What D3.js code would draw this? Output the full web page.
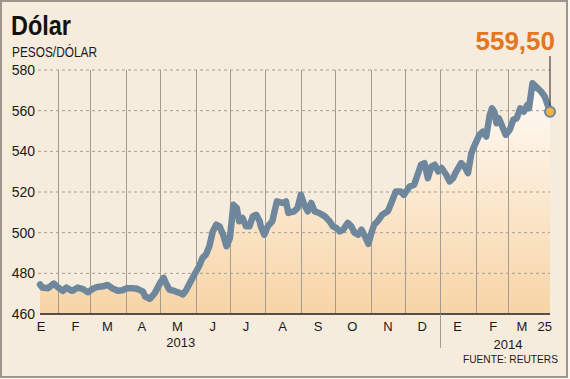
<!DOCTYPE html>
<html>
<head>
<meta charset="utf-8">
<script src="https://cdn.jsdelivr.net/npm/d3@7"></script>
<style>
  html, body { margin: 0; padding: 0; background: #fbf7f1; }
  svg { display: block; font-family: "Liberation Sans", Arial, sans-serif; }
</style>
</head>
<body>
<div id="chart"></div>
<script>
// serie diaria del dólar (pesos por dólar)
const series = [
  ["2013-01-16", 474.5], ["2013-01-18", 473], ["2013-01-23", 472.7], ["2013-01-28", 475],
  ["2013-02-01", 473], ["2013-02-05", 471.4], ["2013-02-08", 473], ["2013-02-13", 471.4],
  ["2013-02-18", 473], ["2013-02-22", 472.4], ["2013-02-27", 470.7], ["2013-03-03", 472.4],
  ["2013-03-07", 473.3], ["2013-03-12", 473.6], ["2013-03-16", 474.3], ["2013-03-20", 472.7],
  ["2013-03-25", 471.4], ["2013-03-29", 471.7], ["2013-04-02", 472.7], ["2013-04-07", 472.7],
  ["2013-04-11", 472.4], ["2013-04-16", 471], ["2013-04-18", 468.6], ["2013-04-22", 467.5],
  ["2013-04-26", 470], ["2013-05-01", 475.3], ["2013-05-04", 477.8], ["2013-05-06", 475.3],
  ["2013-05-09", 472], ["2013-05-14", 471.2], ["2013-05-18", 470.4], ["2013-05-21", 469.6],
  ["2013-05-24", 472], ["2013-05-27", 475.3], ["2013-05-31", 479.4], ["2013-06-04", 483.5],
  ["2013-06-07", 487.6], ["2013-06-10", 489.2], ["2013-06-13", 493.3], ["2013-06-16", 500.6],
  ["2013-06-19", 503.9], ["2013-06-22", 503.1], ["2013-06-25", 499], ["2013-06-28", 493.3],
  ["2013-07-01", 497.4], ["2013-07-04", 513.7], ["2013-07-07", 512.1], ["2013-07-09", 505.6],
  ["2013-07-12", 507.2], ["2013-07-15", 503.1], ["2013-07-18", 503.1], ["2013-07-21", 508],
  ["2013-07-24", 508.8], ["2013-07-27", 505.6], ["2013-07-28", 503.1], ["2013-07-31", 499],
  ["2013-08-03", 503.1], ["2013-08-07", 505.6], ["2013-08-11", 515.4], ["2013-08-16", 514.6],
  ["2013-08-19", 515.4], ["2013-08-21", 509.7], ["2013-08-26", 510.5], ["2013-08-29", 512.1],
  ["2013-09-01", 518.6], ["2013-09-04", 513.7], ["2013-09-07", 510.5], ["2013-09-10", 514.6],
  ["2013-09-13", 510.5], ["2013-09-17", 509.7], ["2013-09-22", 508], ["2013-09-26", 505.6],
  ["2013-09-29", 503.1], ["2013-10-02", 502.3], ["2013-10-05", 500.6], ["2013-10-08", 501.5],
  ["2013-10-12", 504.8], ["2013-10-15", 503.1], ["2013-10-18", 499.9], ["2013-10-21", 499],
  ["2013-10-24", 501.5], ["2013-10-27", 498.2], ["2013-10-30", 494.5], ["2013-11-02", 500.6],
  ["2013-11-04", 503.9], ["2013-11-07", 505.6], ["2013-11-11", 508.8], ["2013-11-16", 510.5],
  ["2013-11-19", 514.6], ["2013-11-23", 520.3], ["2013-11-27", 520.3], ["2013-11-30", 518.6],
  ["2013-12-05", 522.7], ["2013-12-09", 523.6], ["2013-12-12", 528.5], ["2013-12-15", 533.4],
  ["2013-12-18", 534.2], ["2013-12-21", 526.8], ["2013-12-24", 532.5], ["2013-12-27", 533.4],
  ["2013-12-30", 530.1], ["2014-01-02", 531.8], ["2014-01-06", 528.5], ["2014-01-09", 525.2],
  ["2014-01-12", 526.8], ["2014-01-14", 529.3], ["2014-01-19", 534.2], ["2014-01-22", 532.5],
  ["2014-01-25", 529.3], ["2014-01-28", 539.1], ["2014-01-31", 543.2], ["2014-02-04", 548.1],
  ["2014-02-07", 549.7], ["2014-02-10", 547.3], ["2014-02-13", 557.9], ["2014-02-15", 561.2],
  ["2014-02-17", 559.5], ["2014-02-19", 553.8], ["2014-02-21", 556.3], ["2014-02-24", 552.2],
  ["2014-02-27", 548.1], ["2014-03-02", 550.6], ["2014-03-04", 555.5], ["2014-03-06", 556.3],
  ["2014-03-08", 561.2], ["2014-03-10", 559.5], ["2014-03-12", 562.8], ["2014-03-13", 561.2],
  ["2014-03-15", 573.5], ["2014-03-17", 571.8], ["2014-03-20", 569.3], ["2014-03-22", 566.9],
  ["2014-03-25", 559.5]
];

// eje y
const yTicks = [460, 480, 500, 520, 540, 560, 580];

// etiquetas de meses (fecha donde va la letra)
const monthLabels = [
  ["2013-01-17", "E"], ["2013-02-16", "F"], ["2013-03-16", "M"], ["2013-04-15", "A"],
  ["2013-05-16", "M"], ["2013-06-16", "J"], ["2013-07-15", "J"], ["2013-08-16", "A"],
  ["2013-09-16", "S"], ["2013-10-16", "O"], ["2013-11-16", "N"], ["2013-12-16", "D"],
  ["2014-01-16", "E"], ["2014-02-16", "F"], ["2014-03-09", "M"], ["2014-03-22", "25"]
];
const yearLabels = [["2013-05-19", "2013"], ["2014-03-01", "2014"]];

const parse = d3.timeParse("%Y-%m-%d");
const data = series.map(([d, v]) => ({ date: parse(d), value: v }));
const last = data[data.length - 1];

const width = 570;
const height = 379;
const plot = { left: 40, right: 550, top: 70, bottom: 314 };

const svg = d3.select("#chart")
  .append("svg")
  .attr("width", width)
  .attr("height", height);

// marco
svg.append("rect")
  .attr("x", 1).attr("y", 1)
  .attr("width", 566).attr("height", 376)
  .attr("fill", "#f6ecde")
  .attr("stroke", "#9d968d")
  .attr("stroke-width", 2);

// escala x: marzo 2014 va estirado hasta el 25
const xScale = d3.scaleTime()
  .domain([parse("2013-01-16"), parse("2014-03-01"), parse("2014-03-25")])
  .range([plot.left, 508, plot.right]);

const yScale = d3.scaleLinear()
  .domain([460, 580])
  .range([plot.bottom, plot.top]);

// degradado del área
const grad = svg.append("defs")
  .append("linearGradient")
  .attr("id", "areaGrad")
  .attr("gradientUnits", "userSpaceOnUse")
  .attr("x1", 0).attr("x2", 0)
  .attr("y1", plot.bottom).attr("y2", plot.top + 10);
grad.append("stop").attr("offset", "0%").attr("stop-color", "#f7d4a6");
grad.append("stop").attr("offset", "100%").attr("stop-color", "#fffcf8");

const area = d3.area()
  .x((d) => xScale(d.date))
  .y0(yScale(460))
  .y1((d) => yScale(d.value));

svg.append("path")
  .datum(data)
  .attr("d", area)
  .attr("fill", "url(#areaGrad)");

// líneas horizontales punteadas
svg.append("g")
  .selectAll("line")
  .data(yTicks.filter((t) => t > 460))
  .join("line")
  .attr("x1", plot.left - 2)
  .attr("x2", plot.right)
  .attr("y1", (d) => yScale(d))
  .attr("y2", (d) => yScale(d))
  .attr("stroke", "#a59e95")
  .attr("stroke-width", 1)
  .attr("stroke-dasharray", "3,3");

// líneas verticales por mes
const monthStarts = d3.timeMonth.range(parse("2013-02-01"), parse("2014-03-02"));
svg.append("g")
  .selectAll("line")
  .data(monthStarts)
  .join("line")
  .attr("x1", (d) => Math.round(xScale(d)) + 0.5)
  .attr("x2", (d) => Math.round(xScale(d)) + 0.5)
  .attr("y1", plot.top)
  .attr("y2", plot.bottom)
  .attr("stroke", "#a39c93")
  .attr("stroke-width", 1);

// línea del dólar
const line = d3.line()
  .x((d) => xScale(d.date))
  .y((d) => yScale(d.value));

svg.append("path")
  .datum(data)
  .attr("d", line)
  .attr("fill", "none")
  .attr("stroke", "#6e879c")
  .attr("stroke-width", 6.5)
  .attr("stroke-linejoin", "round")
  .attr("stroke-linecap", "round");

// eje inferior
svg.append("line")
  .attr("x1", plot.left).attr("x2", plot.right)
  .attr("y1", plot.bottom).attr("y2", plot.bottom)
  .attr("stroke", "#555049")
  .attr("stroke-width", 2);

// separador de año
const x2014 = Math.round(xScale(parse("2014-01-01"))) + 0.5;
svg.append("line")
  .attr("x1", x2014).attr("x2", x2014)
  .attr("y1", plot.bottom).attr("y2", 348)
  .attr("stroke", "#a39c93")
  .attr("stroke-width", 1);

// etiquetas eje y
svg.append("g")
  .selectAll("text")
  .data(yTicks)
  .join("text")
  .attr("x", 35)
  .attr("y", (d) => yScale(d))
  .attr("dy", "0.36em")
  .attr("text-anchor", "end")
  .attr("font-size", 14)
  .attr("fill", "#1a1a1a")
  .text((d) => d);

// etiquetas de meses
svg.append("g")
  .selectAll("text")
  .data(monthLabels)
  .join("text")
  .attr("x", (d) => xScale(parse(d[0])))
  .attr("y", 331)
  .attr("text-anchor", "middle")
  .attr("font-size", 13)
  .attr("fill", "#1a1a1a")
  .text((d) => d[1]);

svg.append("g")
  .selectAll("text")
  .data(yearLabels)
  .join("text")
  .attr("x", (d) => xScale(parse(d[0])))
  .attr("y", (d, i) => (i === 0 ? 347 : 349))
  .attr("text-anchor", "middle")
  .attr("font-size", 13)
  .attr("fill", "#1a1a1a")
  .text((d) => d[1]);

// títulos
svg.append("text")
  .attr("x", 11).attr("y", 35)
  .attr("font-size", 27)
  .attr("font-weight", "bold")
  .attr("fill", "#111")
  .attr("textLength", 60)
  .attr("lengthAdjust", "spacingAndGlyphs")
  .text("Dólar");

svg.append("text")
  .attr("x", 12).attr("y", 57)
  .attr("font-size", 14)
  .attr("fill", "#1a1a1a")
  .attr("textLength", 85)
  .attr("lengthAdjust", "spacingAndGlyphs")
  .text("PESOS/DÓLAR");

svg.append("text")
  .attr("x", 558).attr("y", 363)
  .attr("text-anchor", "end")
  .attr("font-size", 11)
  .attr("fill", "#1a1a1a")
  .attr("textLength", 95)
  .attr("lengthAdjust", "spacingAndGlyphs")
  .text("FUENTE: REUTERS");

// último valor
const lx = xScale(last.date);
const ly = yScale(last.value);
svg.append("line")
  .attr("x1", lx).attr("x2", lx)
  .attr("y1", 56).attr("y2", ly - 5)
  .attr("stroke", "#222")
  .attr("stroke-width", 1);

svg.append("circle")
  .attr("cx", lx).attr("cy", ly)
  .attr("r", 5)
  .attr("fill", "#f1b343")
  .attr("stroke", "#6e879c")
  .attr("stroke-width", 2);

svg.append("text")
  .attr("x", 555).attr("y", 50)
  .attr("text-anchor", "end")
  .attr("font-size", 26)
  .attr("font-weight", "bold")
  .attr("fill", "#e4761f")
  .text(d3.format(".2f")(last.value).replace(".", ","));
</script>
</body>
</html>
